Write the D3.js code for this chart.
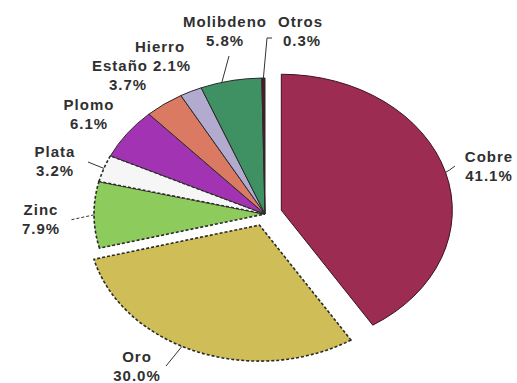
<!DOCTYPE html>
<meta charset="utf-8">
<html>
<head>
<title>Produccion minera</title>
<style>
  body { margin: 0; background: #fff; }
  text { font-family: "Liberation Sans", Arial, sans-serif; font-weight: bold; font-size: 15px; fill: #303030; letter-spacing: 1px; }
</style>
</head>
<body>
<svg width="517" height="383"></svg>
<script src="https://cdn.jsdelivr.net/npm/d3@7"></script>
<script>

// values, clockwise from 12 o'clock
let metals   = ["Cobre", "Oro", "Zinc", "Plata", "Plomo", "Estaño", "Hierro", "Molibdeno", "Otros"];
let shares   = [41.1, 30.0, 7.9, 3.2, 6.1, 3.7, 2.1, 5.8, 0.3];
let pctLabel = ["41.1%", "30.0%", "7.9%", "3.2%", "6.1%", "3.7%", "2.1%", "5.8%", "0.3%"];

var colors  = ["#9c2c52", "#cfbd57", "#8ccb5c", "#f6f6f6", "#a233b3", "#da7a63", "#b3aad0", "#3f9063", "#5a1226"];
var explode = [17, 15, 0, 0, 0, 0, 0, 0, 0];
var dashed  = [false, true, true, true, false, false, false, false, false];

// where each label sits: [x of first line, y of first baseline, x shift of second line]
var labelPos = {
  "Cobre":     [489, 162, 0],
  "Oro":       [137, 362, 0],
  "Zinc":      [41, 215, 0],
  "Plata":     [55, 157, 0],
  "Plomo":     [89, 110, 0],
  "Estaño":    [120, 71, 8],
  "Hierro":    [160, 52, 12],
  "Molibdeno": [225, 27, 0],
  "Otros":     [278, 27, 5]
};

var svg = d3.select("svg");
var cx = 265, cy = 214, r = 171, ry = 136;
var k = ry / r;

var pie = d3.pie().sort(null).value(function(d) { return d; });
var arcs = pie(shares);
var arc = d3.arc().innerRadius(0).outerRadius(r);

function onEdge(a, rad, off) {
  return [cx + off[0] + Math.sin(a) * rad, cy + off[1] + (-Math.cos(a)) * rad * k];
}

var offs = arcs.map(function(d, i) {
  var m = (d.startAngle + d.endAngle) / 2;
  return [Math.sin(m) * explode[i], -Math.cos(m) * explode[i] * k];
});

var g = svg.append("g");

g.selectAll("path.slice")
  .data(arcs)
  .enter()
  .append("path")
  .attr("class", "slice")
  .attr("transform", function(d, i) {
    return "translate(" + (cx + offs[i][0]) + "," + (cy + offs[i][1]) + ") scale(1," + k + ")";
  })
  .attr("d", arc)
  .attr("fill", function(d, i) { return colors[i]; })
  .attr("stroke", function(d, i) { return i == 0 ? "#3d1221" : "#2a2a2a"; })
  .attr("stroke-width", function(d, i) { return dashed[i] ? 1.6 : 1; })
  .attr("stroke-dasharray", function(d, i) { return dashed[i] ? "3,2" : null; })
  .attr("vector-effect", "non-scaling-stroke");

// leader lines from slice edge to label
var leaders = {
  "Cobre":     [0.5, [455, 166]],
  "Oro":       [0.55, [166, 366]],
  "Zinc":      [0.5, [70, 220]],
  "Plata":     [0.5, [88, 162]],
  "Molibdeno": [0.35, [229, 56]],
  "Otros":     [0.5, [268, 38]]
};

arcs.forEach(function(d, i) {
  var name = metals[i];
  if (!leaders[name]) return;
  var m = d.startAngle + (d.endAngle - d.startAngle) * leaders[name][0];
  var p = onEdge(m, r, offs[i]);
  var q = leaders[name][1];
  var pts;
  if (name == "Otros") pts = [p, [q[0] - 1, q[1]], [q[0] + 4, q[1]]];
  else if (name == "Cobre") pts = [p, [p[0] + 4, q[1] + 4], q];
  else pts = [p, q];
  svg.append("path")
    .attr("d", d3.line()(pts))
    .attr("fill", "none")
    .attr("stroke", "#333")
    .attr("stroke-width", 1)
    .attr("stroke-dasharray", name == "Zinc" ? "3,2" : null);
});

metals.forEach(function(name, i) {
  var p = labelPos[name];
  var anchor = name == "Otros" ? "start" : "middle";
  var t = svg.append("text").attr("text-anchor", anchor).attr("x", p[0]).attr("y", p[1]);
  t.append("tspan").attr("x", p[0]).text(name);
  t.append("tspan").attr("x", p[0] + p[2]).attr("dy", 19).text(pctLabel[i]);
});

</script>
</body>
</html>
